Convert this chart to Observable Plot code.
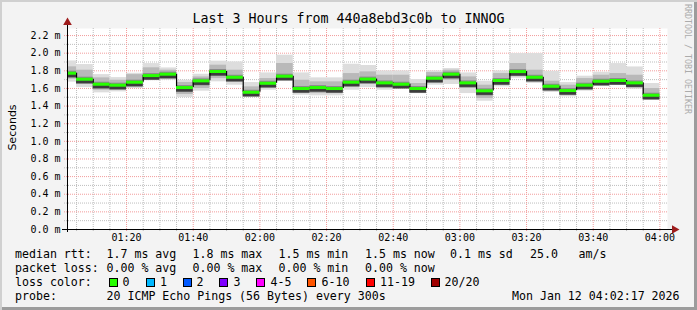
<!DOCTYPE html>
<html><head><meta charset="utf-8">
<script src="https://cdn.jsdelivr.net/npm/d3@7"></script>
<script src="https://cdn.jsdelivr.net/npm/@observablehq/plot@0.6"></script>
<style>
html,body{margin:0;padding:0;background:#f3f3f3;}
#wrap{position:relative;width:697px;height:310px;background:#f3f3f3;box-shadow:inset 2px 2px 0 #d0d0d0, inset -3px -3px 0 #9c9c9c;overflow:hidden;font-family:"DejaVu Sans Mono",monospace;color:#000;}
#chart{position:absolute;left:0;top:0;}
.t{position:absolute;white-space:pre;font-size:11.6px;line-height:14px;}
.box{position:absolute;width:7px;height:7px;border:1px solid #000;}
#title{position:absolute;left:0;width:697px;top:11px;text-align:center;font-size:13.3px;line-height:16px;white-space:pre;}
#brand{position:absolute;left:683px;top:4px;writing-mode:vertical-rl;font-size:8.3px;line-height:10px;color:#ababab;white-space:pre;}
#ylab{position:absolute;left:-38px;width:100px;top:121px;height:13px;text-align:center;font-family:"DejaVu Sans",sans-serif;font-size:11px;line-height:13px;transform:rotate(-90deg);transform-origin:50% 50%;white-space:pre;}
</style></head>
<body>
<div id="wrap">
  <div id="chart"></div>
  <div id="title"></div>
  <div id="brand"></div>
  <div id="legend"></div>
</div>
<script>
// ---- data ----
const titleText = "Last 3 Hours from 440a8ebd3c0b to INNOG";
const brandText = "RRDTOOL / TOBI OETIKER";
const yLabel = "Seconds";
// segment end times (5-minute steps)
const stepEnds = ["01:05","01:10","01:15","01:20","01:25","01:30","01:35","01:40","01:45","01:50",
  "01:55","02:00","02:05","02:10","02:15","02:20","02:25","02:30","02:35",
  "02:40","02:45","02:50","02:55","03:00","03:05","03:10","03:15","03:20",
  "03:25","03:30","03:35","03:40","03:45","03:50","03:55","04:00"];
// median rtt (ms)
const median = [1.773,1.705,1.648,1.637,1.671,1.746,1.762,1.610,1.686,1.792,
  1.727,1.557,1.659,1.739,1.599,1.610,1.599,1.671,1.706,
  1.663,1.648,1.599,1.716,1.762,1.663,1.573,1.690,1.791,
  1.727,1.625,1.576,1.637,1.682,1.690,1.663,1.523];
// smoke: outer (slowest / fastest ping)
const smokeMax = [1.912,1.871,1.757,1.723,1.772,1.882,1.833,1.693,1.761,1.909,
  1.901,1.667,1.776,1.977,1.776,1.720,1.720,1.875,1.860,
  1.799,1.799,1.701,1.799,1.826,1.776,1.682,1.799,1.996,
  1.996,1.795,1.667,1.739,1.784,1.882,1.844,1.656];
const smokeMin = [1.672,1.610,1.550,1.561,1.599,1.705,1.693,1.497,1.569,1.675,
  1.637,1.505,1.580,1.693,1.523,1.516,1.516,1.580,1.610,
  1.580,1.599,1.542,1.637,1.645,1.542,1.455,1.618,1.716,
  1.656,1.554,1.505,1.569,1.637,1.637,1.591,1.474];
// smoke: inner (middle pings)
const midHi = [1.845,1.807,1.720,1.693,1.757,1.834,1.807,1.667,1.731,1.864,
  1.807,1.618,1.712,1.883,1.693,1.675,1.675,1.769,1.788,
  1.750,1.750,1.656,1.780,1.807,1.731,1.637,1.769,1.883,
  1.807,1.682,1.637,1.712,1.750,1.769,1.750,1.599];
const midLo = [1.705,1.645,1.580,1.580,1.629,1.720,1.712,1.531,1.599,1.712,
  1.675,1.523,1.599,1.712,1.550,1.542,1.542,1.618,1.645,
  1.599,1.610,1.561,1.656,1.693,1.599,1.486,1.637,1.750,
  1.682,1.569,1.531,1.599,1.656,1.656,1.618,1.493];
const yMajor = [0,0.2,0.4,0.6,0.8,1.0,1.2,1.4,1.6,1.8,2.0,2.2];
const yMinor = [0.1,0.3,0.5,0.7,0.9,1.1,1.3,1.5,1.7,1.9,2.1];
const yMax = 2.28;
const startTime = "2026-01-12T01:02:17Z", endTime = "2026-01-12T04:02:17Z";
// legend
const rttItems = [["median rtt:",15],["1.7 ms avg",106.5],["1.8 ms max",192.5],["1.5 ms min",278.5],["1.5 ms now",365],["0.1 ms sd",450],["25.0",530],["am/s",578.5]];
const lossItems = [["packet loss:",15],["0.00 % avg",106.5],["0.00 % max",192.5],["0.00 % min",278.5],["0.00 % now",365]];
const lossColors = [["0","#26ff00",108.5,122.5],["1","#00b8ff",145.5,160],["2","#0059ff",182.5,196.5],["3","#7e00ff",219,233.5],["4-5","#ff00ff",256,270.5],["6-10","#ff5500",307,321.5],["11-19","#ff0000",365.5,380],["20/20","#a00000",430.5,444.5]];
const probeItems = [["probe:",15],["20 ICMP Echo Pings (56 Bytes) every 300s",106.5],["Mon Jan 12 04:02:17 2026",512]];

// ---- build ----
const tm = s => new Date("2026-01-12T" + s + ":00Z");
const x0 = new Date(startTime), x1 = new Date(endTime);
const segs = stepEnds.map((e, i) => ({
  x1: d3.utcMinute.offset(tm(e), -5), x2: tm(e),
  med: median[i], lo: smokeMin[i], hi: smokeMax[i], mlo: midLo[i], mhi: midHi[i]
}));
const joins = segs.slice(1).map((s, i) => ({x: s.x1, a: segs[i].med, b: s.med}));
const all5 = d3.utcMinute.every(5).range(x0, x1);
const major20 = d3.utcMinute.every(20).range(x0, x1);
const minor5 = all5.filter(d => d.getUTCMinutes() % 20 !== 0);

const gridGrey = "#bdbdbd", gridRed = "#f29c9c";
const chart = Plot.plot({
  width: 697, height: 244,
  marginLeft: 67, marginRight: 30, marginTop: 28, marginBottom: 15,
  style: {background: "transparent", fontFamily: "'DejaVu Sans Mono', monospace", fontSize: "10px", color: "#000"},
  x: {type: "utc", domain: [x0, x1]},
  y: {domain: [0, yMax]},
  marks: [
    Plot.frame({fill: "#fff", stroke: null}),
    Plot.ruleY(yMinor, {stroke: gridGrey, strokeDasharray: "1,1", insetLeft: -3}),
    Plot.ruleX(minor5, {stroke: gridGrey, strokeDasharray: "1,1", insetBottom: -3}),
    Plot.ruleY(yMajor.filter(d => d > 0), {stroke: gridRed, strokeDasharray: "1,1", insetLeft: -3}),
    Plot.ruleX(major20, {stroke: gridRed, strokeDasharray: "1,1", insetBottom: -3}),
    Plot.rectY(segs, {x1: "x1", x2: "x2", y1: "lo", y2: "hi", fill: "#dddddd", clip: true}),
    Plot.rectY(segs, {x1: "x1", x2: "x2", y1: "mlo", y2: "mhi", fill: "#b9b9b9", clip: true}),
    Plot.ruleY(segs, {x1: "x1", x2: "x2", y: "med", stroke: "#8a8a8a", strokeWidth: 7, dy: 1, clip: true}),
    Plot.ruleY(segs, {x1: "x1", x2: "x2", y: "med", stroke: "#3c3c3c", strokeWidth: 3, dy: 2.5, clip: true}),
    Plot.ruleX(joins, {x: "x", y1: "a", y2: "b", stroke: "#000", strokeWidth: 1.2}),
    Plot.ruleY(segs, {x1: "x1", x2: "x2", y: "med", stroke: "#26ff00", strokeWidth: 3, clip: true}),
    Plot.axisY(yMajor, {tickSize: 0, tickPadding: 7, tickFormat: d => d.toFixed(1) + " m", fontSize: 10}),
    Plot.axisX(major20, {tickSize: 0, tickPadding: 4, tickFormat: d3.utcFormat("%H:%M"), fontSize: 10}),
    Plot.ruleY([0], {stroke: "#000", insetLeft: -5, insetRight: -5}),
    Plot.ruleX([x0], {stroke: "#000", insetTop: -5, insetBottom: -3}),
    Plot.dot([{x: x1, y: 0}], {x: "x", y: "y", symbol: "triangle", r: 3.2, fill: "#9e1c1c", stroke: null, rotate: 90, dx: 7}),
    Plot.dot([{x: x0, y: yMax}], {x: "x", y: "y", symbol: "triangle", r: 3.2, fill: "#9e1c1c", stroke: null, dy: -6})
  ]
});
document.getElementById("chart").appendChild(chart);
document.getElementById("title").textContent = titleText;
document.getElementById("brand").textContent = brandText;

const wrap = document.getElementById("wrap");
const yl = document.createElement("div"); yl.id = "ylab"; yl.textContent = yLabel; wrap.appendChild(yl);
function txt(s, x, y) { const d = document.createElement("div"); d.className = "t"; d.textContent = s; d.style.left = x + "px"; d.style.top = y + "px"; wrap.appendChild(d); }
rttItems.forEach(([s, x]) => txt(s, x, 247));
lossItems.forEach(([s, x]) => txt(s, x, 261));
txt("loss color:", 15, 275);
lossColors.forEach(([s, c, bx, tx]) => {
  const b = document.createElement("div"); b.className = "box"; b.style.left = bx + "px"; b.style.top = "278px"; b.style.background = c; wrap.appendChild(b);
  txt(s, tx, 275);
});
probeItems.forEach(([s, x]) => txt(s, x, 289));
</script>
</body></html>
